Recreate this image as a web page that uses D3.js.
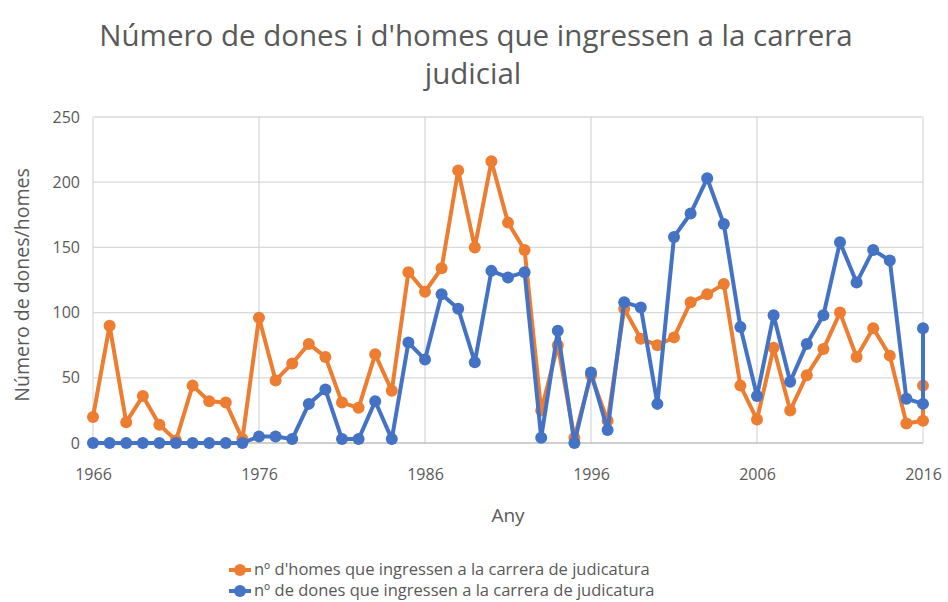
<!DOCTYPE html>
<html><head><meta charset="utf-8">
<script src="https://cdn.jsdelivr.net/npm/d3@7"></script>
<style>body{margin:0;background:#fff}svg{display:block}text{font-family:"Open Sans",sans-serif}</style>
</head><body><svg id="c" width="948" height="602"></svg>
<script>
const years = [1966,1967,1968,1969,1970,1971,1972,1973,1974,1975,1976,1977,1978,1979,1980,1981,1982,1983,1984,1985,1986,1987,1988,1989,1990,1991,1992,1993,1994,1995,1996,1997,1998,1999,2000,2001,2002,2003,2004,2005,2006,2007,2008,2009,2010,2011,2012,2013,2014,2015,2016,2016];
const homes = [20,90,16,36,14,2,44,32,31,3,96,48,61,76,66,31,27,68,40,131,116,134,209,150,216,169,148,25,75,4,52,17,103,80,75,81,108,114,122,44,18,73,25,52,72,100,66,88,67,15,17,44];
const dones = [0,0,0,0,0,0,0,0,0,0,5,5,3,30,41,3,3,32,3,77,64,114,103,62,132,127,131,4,86,0,54,10,108,104,30,158,176,203,168,89,36,98,47,76,98,154,123,148,140,34,30,88];
const xTicks = [1966,1976,1986,1996,2006,2016];
const yTicks = [0,50,100,150,200,250];
const seriesNames = ["nº d'homes que ingressen a la carrera de judicatura","nº de dones que ingressen a la carrera de judicatura"];
const colors = ["#ED7D31","#4472C4"];

const svg = d3.select("#c");
const x = d3.scaleLinear().domain([1966,2016]).range([93,923]);
const y = d3.scaleLinear().domain([0,250]).range([443,117]);
const txt = "#595959";

// gridlines
svg.append("g").selectAll("line").data(yTicks.filter(d=>d>0)).join("line")
  .attr("x1",x(1966)).attr("x2",x(2016)).attr("y1",d=>y(d)).attr("y2",d=>y(d))
  .attr("stroke","#d9d9d9").attr("stroke-width",1.3);
svg.append("g").selectAll("line").data(xTicks).join("line")
  .attr("x1",d=>x(d)).attr("x2",d=>x(d)).attr("y1",y(0)).attr("y2",y(250))
  .attr("stroke","#d9d9d9").attr("stroke-width",1.3);
svg.append("line").attr("x1",x(1966)).attr("x2",x(2016)).attr("y1",y(0)).attr("y2",y(0))
  .attr("stroke","#bfbfbf").attr("stroke-width",1.3);

// axes
const yAxis = d3.axisLeft(y).tickValues(yTicks).tickSize(0).tickPadding(13);
const gy = svg.append("g").attr("transform",`translate(${x(1966)},0)`).call(yAxis);
gy.select(".domain").remove();
gy.selectAll("text").attr("fill",txt).style("font-size","16px").style("font-family","Open Sans");
const xAxis = d3.axisBottom(x).tickValues(xTicks).tickFormat(d3.format("d")).tickSize(0).tickPadding(26);
const gx = svg.append("g").attr("transform",`translate(0,${y(0)})`).call(xAxis);
gx.select(".domain").remove();
gx.selectAll("text").attr("fill",txt).style("font-size","16px").style("font-family","Open Sans");

// series
const data = [homes, dones];
const line = d3.line().x((d,i)=>x(years[i])).y(d=>y(d));
data.forEach((vals,k)=>{
  const g = svg.append("g");
  g.append("path").datum(vals).attr("d",line).attr("fill","none")
    .attr("stroke",colors[k]).attr("stroke-width",4).attr("stroke-linejoin","round");
  g.selectAll("circle").data(vals).join("circle")
    .attr("cx",(d,i)=>x(years[i])).attr("cy",d=>y(d)).attr("r",6).attr("fill",colors[k]);
});

// title
svg.append("text").attr("x",476).attr("y",46).attr("text-anchor","middle")
  .attr("fill",txt).style("font-size","29.5px").text("Número de dones i d'homes que ingressen a la carrera");
svg.append("text").attr("x",473).attr("y",84).attr("text-anchor","middle")
  .attr("fill",txt).style("font-size","29.5px").text("judicial");

// axis titles
svg.append("text").attr("x",508).attr("y",522).attr("text-anchor","middle")
  .attr("fill",txt).style("font-size","19px").text("Any");
svg.append("text").attr("transform","translate(29,285) rotate(-90)").attr("text-anchor","middle")
  .attr("fill",txt).style("font-size","19.5px").text("Número de dones/homes");

// legend
seriesNames.forEach((n,k)=>{
  const ly = 570 + k*21;
  svg.append("line").attr("x1",229).attr("x2",251).attr("y1",ly).attr("y2",ly)
    .attr("stroke",colors[k]).attr("stroke-width",4);
  svg.append("circle").attr("cx",240).attr("cy",ly).attr("r",6).attr("fill",colors[k]);
  svg.append("text").attr("x",254).attr("y",ly+5).attr("fill",txt).style("font-size","16.5px").text(n);
});
</script></body></html>
